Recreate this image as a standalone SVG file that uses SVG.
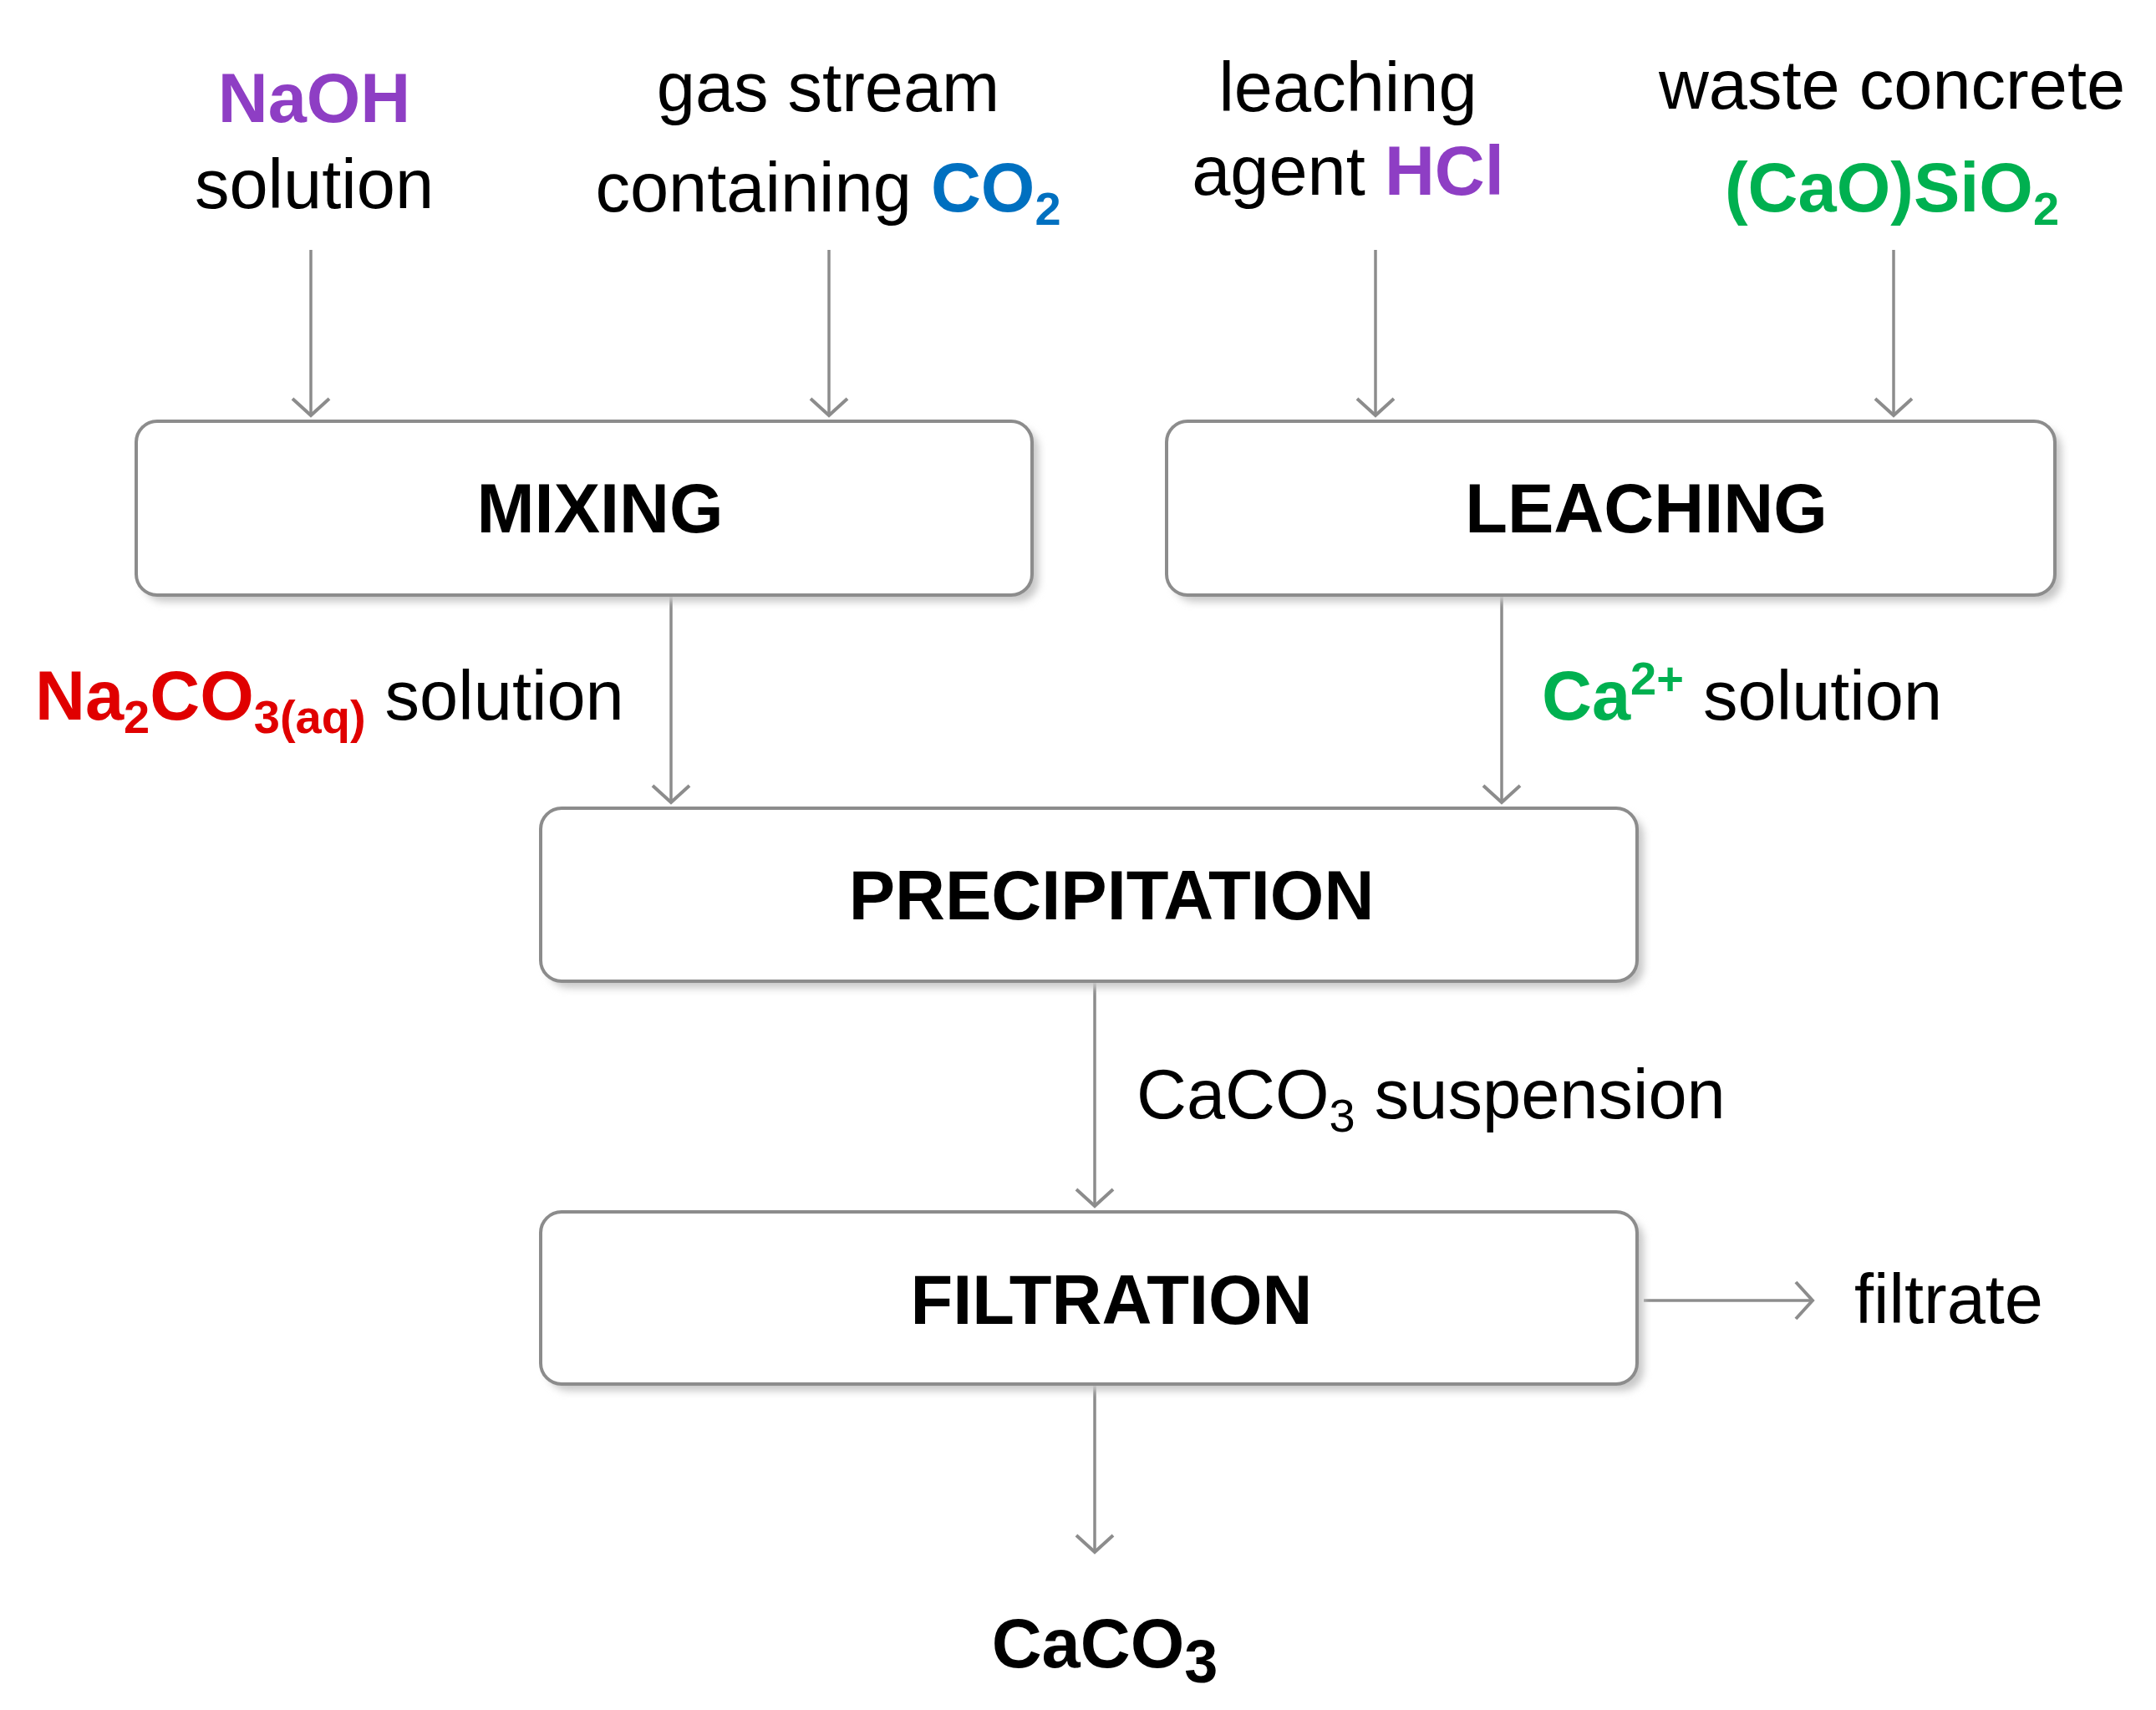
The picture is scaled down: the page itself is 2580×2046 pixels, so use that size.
<svg xmlns="http://www.w3.org/2000/svg" width="2580" height="2046" viewBox="0 0 2580 2046">
<style>
.box{fill:#fff;stroke:#8c8c8c;stroke-width:4}
.shadow{fill:#c8c8c8}
.nl{font-family:"Liberation Sans",Arial,sans-serif;font-weight:bold;font-size:83px;fill:#000;text-anchor:middle}
.t{font-family:"Liberation Sans",Arial,sans-serif;font-size:83px;fill:#000}
.b{font-weight:bold}
.c{stroke:#8c8c8c;stroke-width:3.5;fill:none;marker-end:url(#ah)}
</style>
<defs>
<marker id="ah" markerWidth="50" markerHeight="50" refX="25" refY="25" orient="auto" markerUnits="userSpaceOnUse">
<path d="M5,3 L25,25 L5,47" fill="none" stroke="#8c8c8c" stroke-width="4"/>
</marker>
<filter id="sh" x="-5%" y="-10%" width="115%" height="130%"><feGaussianBlur stdDeviation="5"/></filter>
</defs>
<rect width="2580" height="2046" fill="#fff"/>
<g id="connectors">
<path class="c" d="M372,299 V497"/>
<path class="c" d="M992,299 V497"/>
<path class="c" d="M1646,299 V497"/>
<path class="c" d="M2266,299 V497"/>
<path class="c" d="M803,712 V960"/>
<path class="c" d="M1797,712 V960"/>
<path class="c" d="M1310,1174 V1443"/>
<path class="c" d="M1310,1656 V1857"/>
<path class="c" d="M1967,1556 H2169"/>
</g>
<g id="mixing">
<rect class="shadow" x="171" y="512" width="1072" height="208" rx="25" filter="url(#sh)"/>
<rect class="box" x="163" y="504" width="1072" height="208" rx="25"/>
<text class="nl" x="718" y="637">MIXING</text>
</g>
<g id="leaching">
<rect class="shadow" x="1404" y="512" width="1063" height="208" rx="25" filter="url(#sh)"/>
<rect class="box" x="1396" y="504" width="1063" height="208" rx="25"/>
<text class="nl" x="1970" y="637">LEACHING</text>
</g>
<g id="precipitation">
<rect class="shadow" x="655" y="975" width="1312" height="207" rx="25" filter="url(#sh)"/>
<rect class="box" x="647" y="967" width="1312" height="207" rx="25"/>
<text class="nl" x="1330" y="1100">PRECIPITATION</text>
</g>
<g id="filtration">
<rect class="shadow" x="655" y="1458" width="1312" height="206" rx="25" filter="url(#sh)"/>
<rect class="box" x="647" y="1450" width="1312" height="206" rx="25"/>
<text class="nl" x="1330" y="1584">FILTRATION</text>
</g>
<g id="labels">
<text class="t b" x="376" y="146" text-anchor="middle" style="fill:#8E3EC4">NaOH</text>
<text class="t" x="376" y="249" text-anchor="middle">solution</text>
<text class="t" x="991" y="133" text-anchor="middle">gas stream</text>
<text class="t" x="991" y="253" text-anchor="middle">containing <tspan class="b" style="fill:#0070C0">CO<tspan font-size="56" dy="16">2</tspan></tspan></text>
<text class="t" x="1613" y="133" text-anchor="middle">leaching</text>
<text class="t" x="1613" y="233" text-anchor="middle">agent <tspan class="b" style="fill:#8E3EC4">HCl</tspan></text>
<text class="t" x="2264" y="130" text-anchor="middle">waste concrete</text>
<text class="t b" x="2264" y="253" text-anchor="middle" style="fill:#00B050">(CaO)SiO<tspan font-size="56" dy="16">2</tspan></text>
<text class="t" x="42" y="861"><tspan class="b" style="fill:#E00000">Na<tspan font-size="56" dy="16">2</tspan><tspan dy="-16">CO</tspan><tspan font-size="56" dy="16">3(aq)</tspan></tspan><tspan dy="-16"> solution</tspan></text>
<text class="t" x="1845" y="861"><tspan class="b" style="fill:#00B050">Ca<tspan font-size="56" dy="-30">2+</tspan></tspan><tspan dy="30"> solution</tspan></text>
<text class="t" x="1360" y="1338">CaCO<tspan font-size="56" dy="16">3</tspan><tspan dy="-16"> suspension</tspan></text>
<text class="t" x="2219" y="1583">filtrate</text>
<text class="t b" x="1322" y="1995" text-anchor="middle" font-size="110">CaCO<tspan font-size="72" dy="18">3</tspan></text>
</g>
</svg>
